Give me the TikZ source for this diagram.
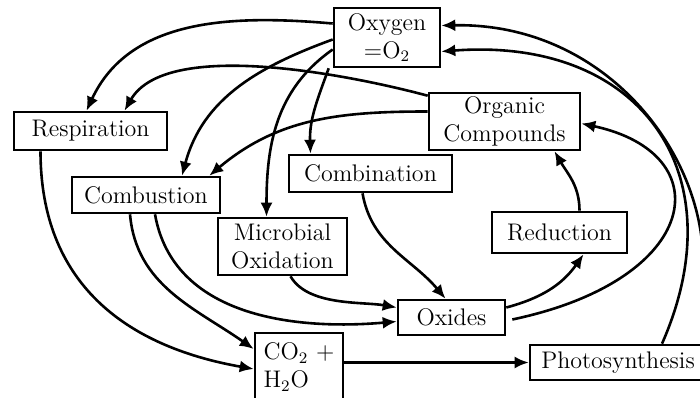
\documentclass[tikz,border=0pt]{standalone}
\usepackage{amsmath}
\usepackage{xcolor}
\usepackage{tikz}
\usetikzlibrary{arrows.meta}

\begin{document}
\begin{tikzpicture}[x=0.5pt,y=0.5pt,->,>={Latex[length=7pt,width=6pt]},line width=1.3pt]
    \tikzstyle{box}=[rectangle,draw=black,line width=1.3pt,inner sep=1pt,font=\large,align=center]
    \tikzstyle{link}=[->,black]

    \useasboundingbox (0,0) rectangle (700,397);

    % Draw the boxes
    \node[box,minimum width=53pt,minimum height=29.5pt] (oxy) at (387,359.5) {Oxygen\\=O$_2$};
    \node[box,minimum width=75.5pt,minimum height=28.5pt] (org) at (504.5,275.5) {Organic\\Compounds};
    \node[box,minimum width=76.5pt,minimum height=19pt] (resp) at (90.5,266) {Respiration};
    \node[box,minimum width=74pt,minimum height=18pt] (comb) at (146,202) {Combustion};
    \node[box,minimum width=81.5pt,minimum height=18.5pt] (combi) at (370.5,223.5) {Combination};
    \node[box,minimum width=64.5pt,minimum height=28.5pt] (micro) at (282.5,150.5) {Microbial\\Oxidation};
    \node[box,minimum width=67.5pt,minimum height=20.5pt] (red) at (559.5,164.5) {Reduction};
    \node[box,minimum width=53.5pt,minimum height=17.5pt] (oxides) at (451.5,79.5) {Oxides};
    \node[box,minimum width=44pt,minimum height=34pt,align=left] (co2) at (299,30) {CO$_2$ +\\H$_2$O};
    \node[box,minimum width=88pt,minimum height=17.5pt] (photo) at (618,34.5) {Photosynthesis};

    % Oxygen used up
    \path[link] ([yshift=7pt]oxy.west) edge[out=175,in=65] ([xshift=-2pt]resp.north);
    \path[link] ([yshift=-1pt]oxy.west) edge[out=200,in=75] ([xshift=18pt]comb.north);
    \path[link] ([yshift=-6pt]oxy.west) edge[out=215,in=90] ([xshift=-8pt]micro.north);
    \path[link] ([xshift=-2pt]oxy.south west) edge[out=250,in=92] ([xshift=-30pt]combi.north);

    % Organic compounds burnt or breathed
    \path[link] ([yshift=-2pt]org.north west) edge[out=165,in=60,looseness=0.7] ([xshift=17pt]resp.north);
    \path[link] ([yshift=5pt]org.west) edge[out=180,in=40] ([xshift=-6pt]comb.north east);

    % Towards CO2 + H2O and oxides
    \path[link] ([xshift=-25pt]resp.south) edge[out=270,in=170,looseness=1.1] ([yshift=-1pt]co2.west);
    \path[link] ([xshift=-8pt]comb.south) edge[out=275,in=145] ([yshift=9pt]co2.west);
    \path[link] ([xshift=4.5pt]comb.south) edge[out=280,in=185] ([yshift=-2pt]oxides.west);
    \path[link] ([xshift=4pt]micro.south) edge[out=300,in=170,looseness=0.8] ([yshift=5pt]oxides.west);
    \path[link] ([xshift=-4pt]combi.south) edge[out=280,in=130] ([xshift=-3pt]oxides.north);

    % Back to organic compounds
    \path[link] ([yshift=5pt]oxides.east) edge[out=15,in=235] ([xshift=12pt]red.south);
    \path[link] ([xshift=10pt]red.north) edge[out=90,in=300] ([xshift=25pt]org.south);
    \draw[link] ([xshift=3pt,yshift=-1pt]oxides.east) .. controls +(190,40) and +(140,-30) .. ([yshift=-1pt]org.east);

    % Photosynthesis gives oxygen back
    \draw[link] (co2.east |- photo.west) -- (photo.west);
    \draw[link] ([xshift=22pt]photo.north) .. controls +(75,170) and +(200,15) .. ([yshift=-7pt]oxy.east);
    \coordinate (rim) at (703,140);
    \draw[link] (rim) .. controls +(-3,110) and +(160,3) .. ([yshift=6pt]oxy.east);

\end{tikzpicture}
\end{document}
